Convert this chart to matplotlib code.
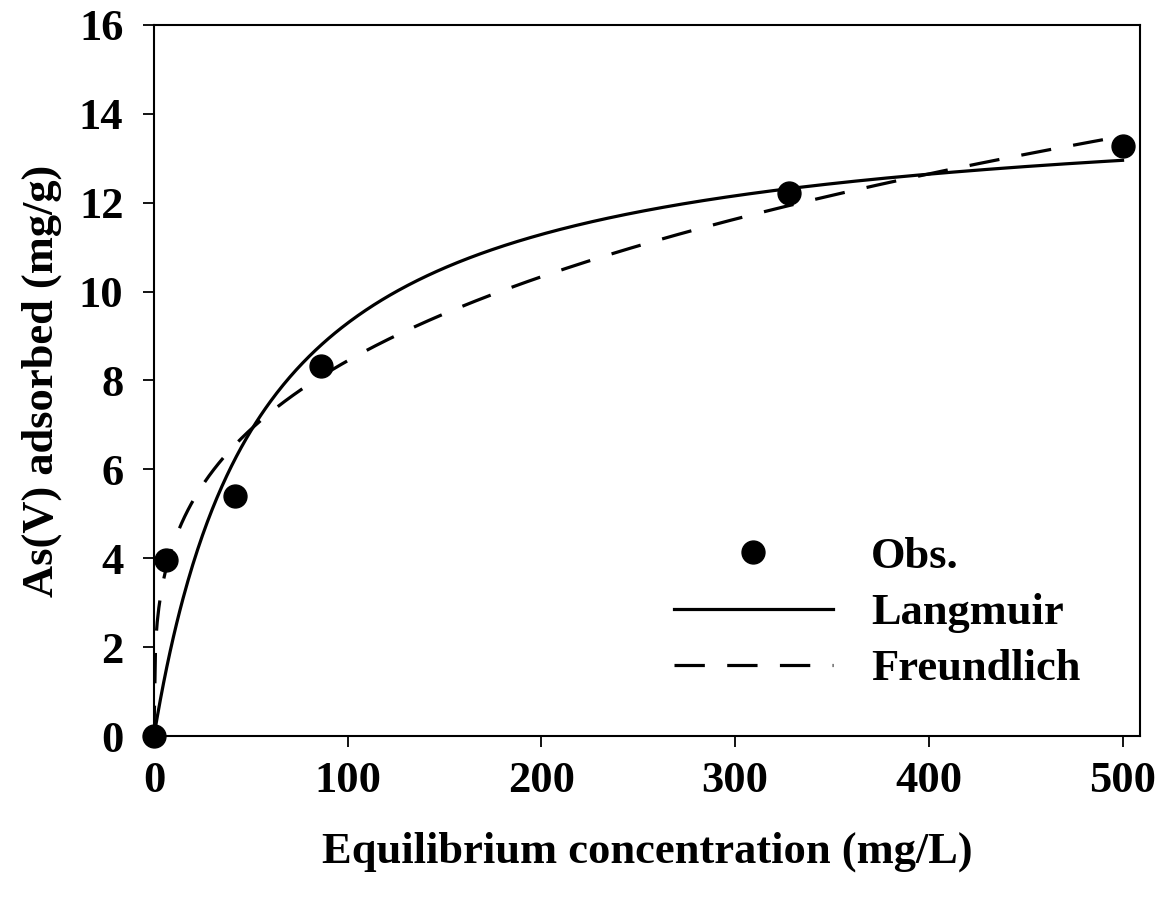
import numpy as np
import matplotlib.pyplot as plt

plt.rcParams['font.family'] = ['Liberation Serif', 'DejaVu Serif']
plt.rcParams['font.weight'] = 'bold'

# observed adsorption data
ce_obs = [0, 6, 42, 86, 328, 500]
qe_obs = [0, 3.95, 5.4, 8.33, 12.22, 13.28]

# fitted isotherm parameters
qmax = 14.37
k_langmuir = 0.0183
k_freundlich = 2.207
inv_n = 0.2914

xticks = [0, 100, 200, 300, 400, 500]
yticks = [0, 2, 4, 6, 8, 10, 12, 14, 16]

ce = np.linspace(0, 500, 600)
q_lang = qmax * k_langmuir * ce / (1 + k_langmuir * ce)
q_freu = k_freundlich * ce ** inv_n

fig = plt.figure(figsize=(11.63, 8.98), dpi=100)
ax = fig.add_axes([0.1324, 0.1804, 0.8478, 0.7918])

ax.plot(ce_obs, qe_obs, 'o', color='black', ms=16.5, clip_on=False,
        zorder=5, label='Obs.')
ax.plot(ce, q_lang, '-', color='black', lw=2.3, label='Langmuir')
ax.plot(ce, q_freu, color='black', lw=2.3, dashes=(9.5, 7), label='Freundlich')

ax.set_xlim(0, 509)
ax.set_ylim(0, 16)
ax.set_xticks(xticks)
ax.set_yticks(yticks)
ax.tick_params(axis='both', direction='out', length=8, width=1.3,
               labelsize=32, pad=10)
ax.tick_params(axis='y', pad=14)
ax.tick_params(top=False, right=False)
for s in ax.spines.values():
    s.set_linewidth(1.5)

ax.set_xlabel('Equilibrium concentration (mg/L)', fontsize=32,
              fontweight='bold', labelpad=22)
ax.set_ylabel('As(V) adsorbed (mg/g)', fontsize=32, fontweight='bold',
              labelpad=12)

ax.legend(loc='lower right', bbox_to_anchor=(0.971, 0.022), frameon=False,
          fontsize=32, handlelength=3.58, handletextpad=0.86,
          labelspacing=0.36, borderpad=0.2)

fig.savefig('out.png', dpi=100)
